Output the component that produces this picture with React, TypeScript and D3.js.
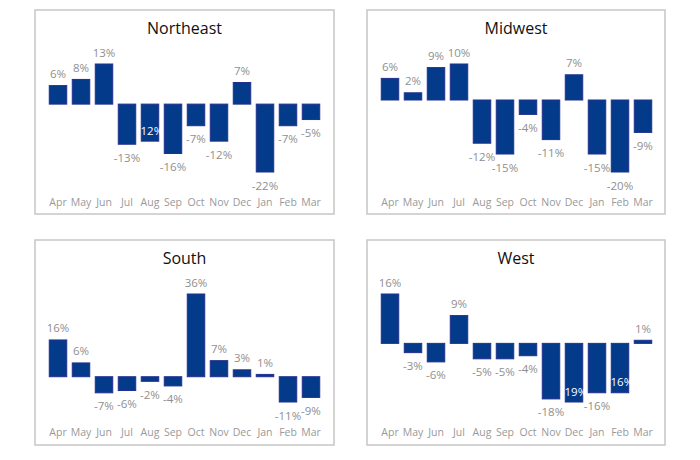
import React from 'react';
import * as d3 from 'd3';

const months = ['Apr', 'May', 'Jun', 'Jul', 'Aug', 'Sep', 'Oct', 'Nov', 'Dec', 'Jan', 'Feb', 'Mar'];
const regions = ['Northeast', 'Midwest', 'South', 'West'];
const northeast = [6, 8, 13, -13, -12, -16, -7, -12, 7, -22, -7, -5];
const midwest = [6, 2, 9, 10, -12, -15, -4, -11, 7, -15, -20, -9];
const south = [16, 6, -7, -6, -2, -4, 36, 7, 3, 1, -11, -9];
const west = [16, -3, -6, 9, -5, -5, -4, -18, -19, -16, -16, 1];
const seriesList = [northeast, midwest, south, west];

const W = 700;
const H = 460;
const panels = [
  { x: 35, y: 10, w: 299, h: 204 },
  { x: 367, y: 10, w: 298, h: 204 },
  { x: 35, y: 240, w: 299, h: 205 },
  { x: 367, y: 240, w: 298, h: 205 },
];

const FONT = '"Open Sans", "Segoe UI", sans-serif';
const BAR = '#033a8a';
const BAR_STROKE = '#23308f';
const LABEL = '#8f8f8f';

// rough width of a label in px
const textWidth = (s: string) =>
  s.split('').reduce((acc, c) => acc + (c === '%' ? 9.5 : c === '-' ? 4 : 6.5), 0);

const fmt = (v: number) => `${Math.round(v)}%`;

interface PanelProps {
  title: string;
  values: number[];
  box: { x: number; y: number; w: number; h: number };
}

const Panel: React.FC<PanelProps> = ({ title, values, box }) => {
  const x = d3.scaleBand<string>()
    .domain(months)
    .range([11.5, 287.5])
    .paddingInner(0.24)
    .paddingOuter(0.12);
  const y = d3.scaleLinear()
    .domain([d3.min(values) as number, d3.max(values) as number])
    .range([162, 54]);
  const y0 = y(0);
  const bw = x.bandwidth();

  // label placement: outside end, moved inside the bar when it hits an earlier label
  const placed: { cx: number; cy: number; w: number }[] = [];
  const labels = values.map((v, i) => {
    const m = months[i];
    const cx = (x(m) as number) + bw / 2;
    const text = fmt(v);
    const w = textWidth(text);
    let cy = v >= 0 ? y(v) - 12 : y(v) + 13;
    let inside = false;
    const hit = placed.some(p => Math.abs(p.cx - cx) < (p.w + w) / 2 - 1 && Math.abs(p.cy - cy) < 8);
    if (hit && v < 0) {
      inside = true;
      cy = y(v) - 11;
    } else {
      placed.push({ cx, cy, w });
    }
    return { text, cx, cy, inside };
  });

  return (
    <g transform={`translate(${box.x},${box.y})`}>
      <rect x={0} y={0} width={box.w} height={box.h} fill="#fff" stroke="#c6c6c6" strokeWidth={1.5} />
      <text x={box.w / 2} y={18} textAnchor="middle" fontFamily={FONT} fontSize={16} fill="#111"
        dominantBaseline="central">{title}</text>
      {values.map((v, i) => (
        <rect key={months[i]}
          x={x(months[i])}
          y={Math.min(y(v), y0)}
          width={bw}
          height={Math.abs(y(v) - y0)}
          fill={BAR}
          stroke={BAR_STROKE}
          strokeWidth={1} />
      ))}
      {labels.map(l => (
        <text key={l.text + l.cx} x={l.cx} y={l.cy} textAnchor="middle" dominantBaseline="central"
          fontFamily={FONT} fontSize={11.5} fill={l.inside ? '#fff' : LABEL}>{l.text}</text>
      ))}
      {months.map(m => (
        <text key={m} x={(x(m) as number) + bw / 2} y={192} textAnchor="middle" dominantBaseline="central"
          fontFamily={FONT} fontSize={10.5} fill="#999">{m}</text>
      ))}
    </g>
  );
};

export default function App() {
  return (
    <svg width={W} height={H} style={{ position: 'absolute', left: 0, top: 0, background: '#fff' }}>
      {regions.map((r, i) => (
        <Panel key={r} title={r} values={seriesList[i]} box={panels[i]} />
      ))}
    </svg>
  );
}
